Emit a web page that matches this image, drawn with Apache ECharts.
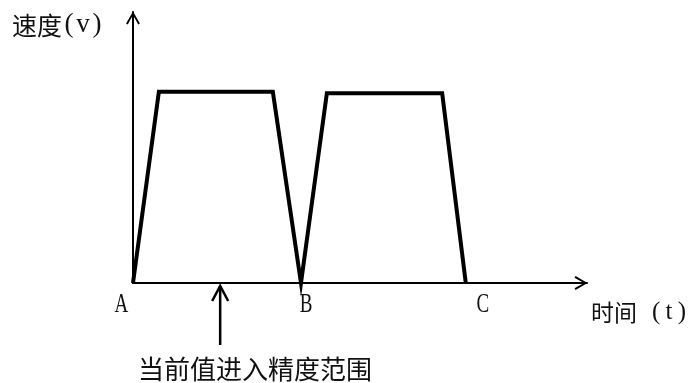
<!DOCTYPE html>
<html>
<head>
<meta charset="utf-8">
<script src="https://cdn.jsdelivr.net/npm/echarts@6/dist/echarts.min.js"></script>
<style>
  html, body { margin: 0; padding: 0; background: #fff; }
  #chart { width: 694px; height: 383px; }
</style>
</head>
<body>
<div id="chart"></div>
<script>
// speed profile: two trapezoids (time, speed)
const speedT = [0, 5.7, 30.8, 37.0, 42.7, 68.1, 73.3]
const speedV = [0, 70.6, 70.6, 0, 70.0, 70.0, 0]
// point names on the time axis
const markNames = ['A', 'B', 'C']
const markT = [0, 37.0, 73.3]
const markDx = [-11.5, 5, 17] // label nudge, px
// moment the value enters the precision range
const precisionT = 19.2
const precisionText = '当前值进入精度范围'

const cjk = '"Noto Sans CJK SC", sans-serif'
const serif = '"Liberation Serif", serif'
const chevron = 'path://M5 0 L10 8.6 L8.8 9.4 L5 2.6 L1.2 9.4 L0 8.6 Z'

const axisLine = {
  show: true,
  symbol: ['none', chevron],
  symbolSize: [14, 13],
  symbolOffset: [0, -6],
  lineStyle: { color: '#000', width: 2 }
}

// half-width latin cells, like a monospaced CJK font
function cell (size, w) {
  return { font: size + 'px ' + serif, fill: '#111', width: w, align: 'center', verticalAlign: 'middle' }
}

const chart = echarts.init(document.getElementById('chart'), null, { renderer: 'canvas' })

chart.setOption({
  animation: false,
  grid: { left: 133, right: 107, top: 12, bottom: 100 },
  xAxis: {
    type: 'value',
    min: 0,
    max: 100,
    axisLine: axisLine,
    axisTick: { show: false },
    axisLabel: { show: false },
    splitLine: { show: false }
  },
  yAxis: {
    type: 'value',
    min: 0,
    max: 100,
    axisLine: axisLine,
    axisTick: { show: false },
    axisLabel: { show: false },
    splitLine: { show: false }
  },
  series: [{
    type: 'line',
    data: speedT.map((t, i) => [t, speedV[i]]),
    symbol: 'none',
    clip: false,
    lineStyle: { color: '#000', width: 4, join: 'miter' }
  }]
})

// annotations placed from the axis scale
const base = chart.convertToPixel({ gridIndex: 0 }, [0, 0])
const graphics = [
  {
    type: 'text',
    x: 12,
    y: 25,
    style: {
      text: '{c|速度}{m|(}{m|v}{m|)}',
      verticalAlign: 'middle',
      rich: {
        c: { font: '25px ' + cjk, fill: '#111', verticalAlign: 'middle' },
        m: cell(27, 14)
      }
    }
  },
  {
    type: 'text',
    x: 591,
    y: 312,
    style: {
      text: '{c|时间}{m| }{m|(}{m|t}{m|)}',
      verticalAlign: 'middle',
      rich: {
        c: { font: '23px ' + cjk, fill: '#111', verticalAlign: 'middle' },
        m: cell(25, 12.8)
      }
    }
  }
]

markNames.forEach((name, i) => {
  const p = chart.convertToPixel({ gridIndex: 0 }, [markT[i], 0])
  graphics.push({
    type: 'text',
    x: p[0] + markDx[i],
    y: base[1] + 22,
    scaleX: 0.68,
    style: {
      text: name,
      font: '28px ' + serif,
      fill: '#111',
      align: 'center',
      verticalAlign: 'middle'
    }
  })
})

const pp = chart.convertToPixel({ gridIndex: 0 }, [precisionT, 0])
graphics.push(
  {
    type: 'line',
    shape: { x1: pp[0], y1: base[1] + 3, x2: pp[0], y2: base[1] + 62 },
    style: { stroke: '#000', lineWidth: 2.5 }
  },
  {
    type: 'polyline',
    shape: { points: [[pp[0] - 8, base[1] + 18], [pp[0], base[1] + 3], [pp[0] + 8, base[1] + 18]] },
    style: { stroke: '#000', lineWidth: 2.5, fill: null }
  },
  {
    type: 'text',
    x: 255,
    y: 369,
    style: {
      text: precisionText,
      font: '26px ' + cjk,
      fill: '#111',
      align: 'center',
      verticalAlign: 'middle'
    }
  }
)

chart.setOption({ graphic: graphics })
</script>
</body>
</html>
